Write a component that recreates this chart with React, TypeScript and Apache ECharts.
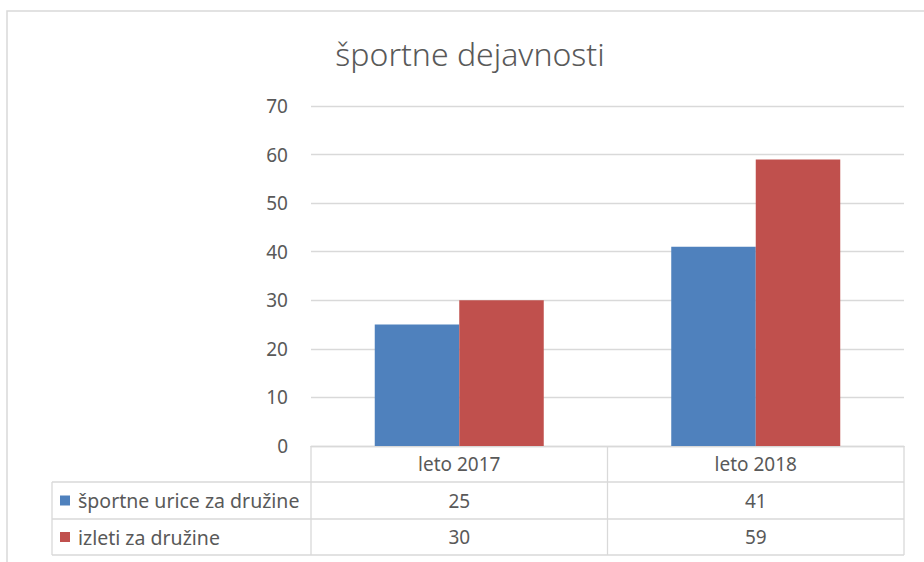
import React, { useEffect, useRef } from "react";
import * as echarts from "echarts";

const title = "športne dejavnosti";
const categories = ["leto 2017", "leto 2018"];
const seriesNames = ["športne urice za družine", "izleti za družine"];
const sportneUrice = [25, 41];
const izleti = [30, 59];
const seriesValues = [sportneUrice, izleti];
const seriesColors = ["#4F81BD", "#C0504D"];
const yTicks = { min: 0, max: 70, interval: 10 };

const W = 924;
const H = 562;
const gridLeft = 311;
const gridRight = 904;
const gridTop = 106;
const gridBottom = 446;
const rowLines = [446, 482, 519, 555];
const legendLeft = 52;
const FONT = "Noto Sans";
const TEXT = "#595959";
const LINE = "#D9D9D9";

export default function App() {
  const ref = useRef<HTMLDivElement>(null);
  useEffect(() => {
    if (!ref.current) return;
    const chart = echarts.init(ref.current, undefined, { renderer: "svg" });
    const colW = (gridRight - gridLeft) / categories.length;
    const graphics: any[] = [];
    // outer chart border
    graphics.push({
      type: "polyline",
      shape: { points: [[7, H + 5], [7, 11], [W + 5, 11]] },
      style: { stroke: "#D9D9D9", lineWidth: 1.5, fill: "none" },
      silent: true,
    });
    // table horizontal lines
    rowLines.forEach((y, i) => {
      if (i === 0) return;
      graphics.push({
        type: "line",
        shape: { x1: legendLeft, y1: y, x2: gridRight, y2: y },
        style: { stroke: LINE, lineWidth: 1.3 },
        silent: true,
      });
    });
    // vertical lines
    for (let c = 0; c <= categories.length; c++) {
      const x = gridLeft + c * colW;
      graphics.push({
        type: "line",
        shape: { x1: x, y1: rowLines[0], x2: x, y2: rowLines[rowLines.length - 1] },
        style: { stroke: LINE, lineWidth: 1.3 },
        silent: true,
      });
    }
    graphics.push({
      type: "line",
      shape: { x1: legendLeft, y1: rowLines[1], x2: legendLeft, y2: rowLines[rowLines.length - 1] },
      style: { stroke: LINE, lineWidth: 1.3 },
      silent: true,
    });
    // rows: legend key + name + values
    seriesNames.forEach((name, r) => {
      const yc = (rowLines[r + 1] + rowLines[r + 2]) / 2;
      graphics.push({
        type: "rect",
        shape: { x: 60, y: yc - 5, width: 10, height: 10 },
        style: { fill: seriesColors[r] },
        silent: true,
      });
      graphics.push({
        type: "text",
        x: 78,
        y: yc,
        style: {
          text: name,
          fill: TEXT,
          font: `19.5px "${FONT}"`,
          textAlign: "left",
          textVerticalAlign: "middle",
        },
        silent: true,
      });
      seriesValues[r].forEach((v, c) => {
        graphics.push({
          type: "text",
          x: gridLeft + (c + 0.5) * colW,
          y: yc,
          style: {
            text: String(v),
            fill: TEXT,
            font: `19px "${FONT}"`,
            textAlign: "center",
            textVerticalAlign: "middle",
          },
          silent: true,
        });
      });
    });

    chart.setOption({
      animation: false,
      backgroundColor: "#ffffff",
      title: {
        text: title,
        left: 470,
        top: 37,
        padding: 0,
        textAlign: "center",
        textStyle: { fontFamily: FONT, fontSize: 32, fontWeight: 300, color: TEXT },
      },
      grid: {
        left: gridLeft,
        right: W - gridRight,
        top: gridTop,
        bottom: H - gridBottom,
        containLabel: false,
      },
      xAxis: {
        type: "category",
        data: categories,
        axisLine: { lineStyle: { color: LINE, width: 1.3 } },
        axisTick: { show: false },
        axisLabel: { color: TEXT, fontFamily: FONT, fontSize: 19, margin: 8 },
      },
      yAxis: {
        type: "value",
        min: yTicks.min,
        max: yTicks.max,
        interval: yTicks.interval,
        axisLine: { show: false },
        axisTick: { show: false },
        splitLine: { lineStyle: { color: LINE, width: 1.3 } },
        axisLabel: { color: TEXT, fontFamily: FONT, fontSize: 19, margin: 23 },
      },
      series: seriesNames.map((name, i) => ({
        name,
        type: "bar",
        data: seriesValues[i],
        barGap: "0%",
        barCategoryGap: "43%",
        itemStyle: { color: seriesColors[i] },
      })),
      graphic: graphics,
    });
    return () => chart.dispose();
  }, []);
  return (
    <div
      ref={ref}
      style={{ position: "fixed", left: 0, top: 0, width: W, height: H, background: "#fff" }}
    />
  );
}
